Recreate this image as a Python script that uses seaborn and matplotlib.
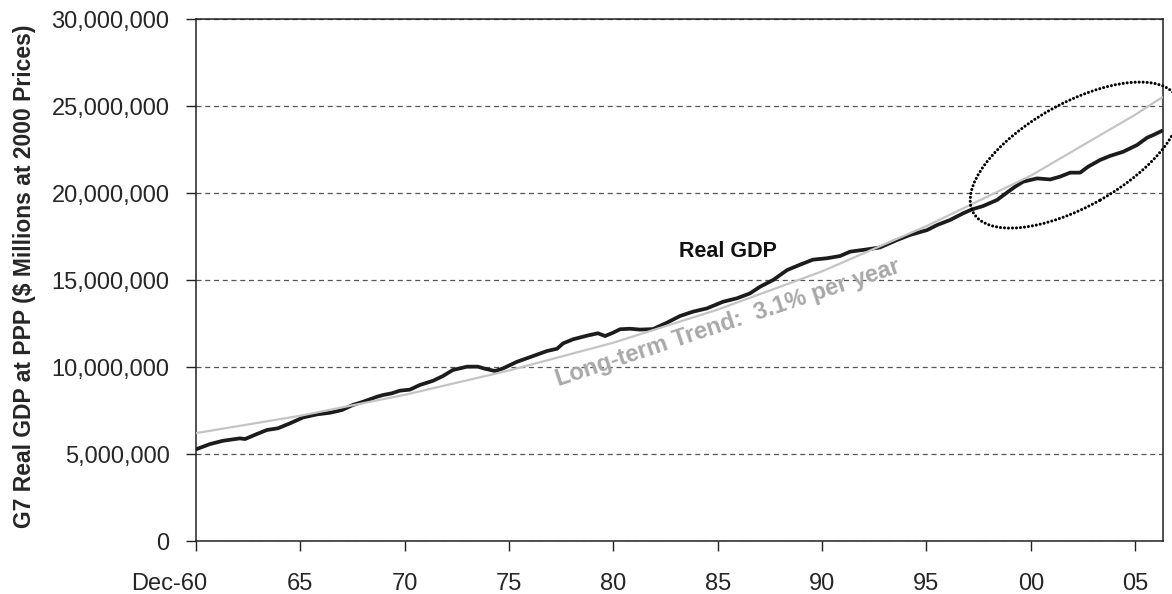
#!/usr/bin/env python3

import matplotlib
matplotlib.use("Agg")
import matplotlib.pyplot as plt
import matplotlib.ticker as ticker
import matplotlib.transforms as mtransforms
from matplotlib.patches import Ellipse
import pandas as pd
import seaborn as sns

# values, in millions of "$ Millions" (i.e. x 1e6)
gdp_year = [
    1960.92, 1961.59, 1962.21, 1963.03, 1963.27, 1963.84, 1964.32, 1964.85,
    1965.42, 1966.05, 1966.72, 1967.34, 1967.92, 1968.44, 1968.92, 1969.59,
    1969.88, 1970.31, 1970.69, 1971.17, 1971.65, 1972.28, 1972.75, 1973.23,
    1973.91, 1974.43, 1974.77, 1975.25, 1975.63, 1976.30, 1977.07, 1977.74,
    1978.22, 1978.51, 1978.98, 1979.65, 1980.18, 1980.52, 1980.90, 1981.24,
    1981.72, 1982.19, 1982.82, 1983.49, 1984.11, 1984.73, 1985.40, 1986.17,
    1986.84, 1987.46, 1987.94, 1988.57, 1989.24, 1989.86, 1990.48, 1991.15,
    1991.78, 1992.26, 1993.07, 1993.69, 1994.51, 1995.13, 1995.95, 1996.43,
    1997.05, 1997.67, 1998.10, 1998.63, 1999.30, 1999.68, 2000.16, 2000.55,
    2001.22, 2001.84, 2002.32, 2002.80, 2003.28, 2003.66, 2004.24, 2004.71,
    2005.34, 2006.01, 2006.49, 2006.78, 2007.21,
]
gdp_value = [
    5.27, 5.57, 5.76, 5.90, 5.86, 6.15, 6.38, 6.48,
    6.76, 7.10, 7.28, 7.37, 7.53, 7.82, 8.00, 8.29,
    8.39, 8.49, 8.64, 8.70, 8.97, 9.21, 9.48, 9.83,
    10.02, 10.02, 9.90, 9.77, 9.92, 10.30, 10.63, 10.92,
    11.05, 11.36, 11.59, 11.80, 11.94, 11.78, 11.97, 12.17,
    12.20, 12.15, 12.18, 12.55, 12.93, 13.18, 13.37, 13.75,
    13.95, 14.23, 14.61, 15.00, 15.57, 15.88, 16.17, 16.25,
    16.38, 16.63, 16.76, 16.87, 17.30, 17.59, 17.87, 18.16,
    18.45, 18.83, 19.06, 19.25, 19.60, 19.94, 20.36, 20.65,
    20.84, 20.78, 20.94, 21.17, 21.17, 21.51, 21.90, 22.13,
    22.37, 22.76, 23.18, 23.33, 23.58,
]

trend_year = [1960.92, 1965.92, 1970.92, 1975.92, 1980.92, 1985.92,
              1990.92, 1995.92, 2000.92, 2005.92, 2007.21]
trend_value = [6.2, 7.2, 8.4, 9.8, 11.4, 13.3, 15.5, 18.1, 21.0, 24.5, 25.5]

tick_year = [1960.92, 1965.92, 1970.92, 1975.92, 1980.92, 1985.92,
             1990.92, 1995.92, 2000.92, 2005.92]
tick_labels = ["Dec-60", "65", "70", "75", "80", "85", "90", "95", "00", "05"]

sns.set_style("white")
plt.rcParams["font.family"] = ["Liberation Sans", "DejaVu Sans"]

gdp = pd.DataFrame({"year": gdp_year, "value": [v * 1e6 for v in gdp_value]})
trend = pd.DataFrame({"year": trend_year, "value": [v * 1e6 for v in trend_value]})

fig = plt.figure(figsize=(11.72, 5.94), dpi=100)
ax = fig.add_axes([0.1672, 0.0892, 0.8251, 0.8788])

sns.lineplot(data=gdp, x="year", y="value", ax=ax, color="#1c1c1c",
             linewidth=2.7, zorder=3)
sns.lineplot(data=trend, x="year", y="value", ax=ax, color="#c4c4c4",
             linewidth=1.6, zorder=4)

ax.set_xlim(1960.92, 2007.25)
ax.set_ylim(0, 30e6)
ax.set_xticks(tick_year)
ax.set_xticklabels(tick_labels)
ax.yaxis.set_major_locator(ticker.MultipleLocator(5e6))
ax.yaxis.set_major_formatter(ticker.FuncFormatter(lambda v, p: "{:,.0f}".format(v)))
ax.grid(axis="y", linestyle=(0, (4, 3)), color="#555555", linewidth=0.9)
ax.grid(axis="x", visible=False)
ax.tick_params(axis="x", direction="out", length=7, width=1, pad=16,
               labelsize=17, color="#222222", bottom=True)
ax.tick_params(axis="y", direction="out", length=7, width=1, pad=12,
               labelsize=17, color="#222222", left=True)
for s in ax.spines.values():
    s.set_color("#222222")
    s.set_linewidth(1.1)

ax.set_xlabel("")
ax.set_ylabel("G7 Real GDP at PPP ($ Millions at 2000 Prices)",
              fontsize=16.5, fontweight="bold")
ax.yaxis.set_label_coords(-0.165, 0.507)

# first label sits left of its tick
first = ax.get_xticklabels()[0]
first.set_transform(first.get_transform()
                    + mtransforms.ScaledTranslation(-27 / 100, 0, fig.dpi_scale_trans))

ax.text(1986.4, 16.62e6, "Real GDP", fontsize=15.5, fontweight="bold",
        color="#111111", ha="center", va="center")
ax.text(1986.43, 12.51e6, "Long-term Trend:  3.1% per year", fontsize=17,
        fontweight="bold", color="#a8a8a8", ha="center", va="center",
        rotation=18.4, rotation_mode="anchor")

# dotted ring round the recent gap
cx, cy = ax.transData.transform((2003.04, 22.18e6))
ring = Ellipse((0, 0), 234, 103, angle=29.5, fill=False, edgecolor="black",
               linewidth=2.2, linestyle=(0, (0.01, 1.3)), capstyle="round",
               transform=mtransforms.Affine2D().translate(cx, cy),
               clip_on=False, zorder=5)
ax.add_patch(ring)

plt.savefig("out.png", dpi=100)
